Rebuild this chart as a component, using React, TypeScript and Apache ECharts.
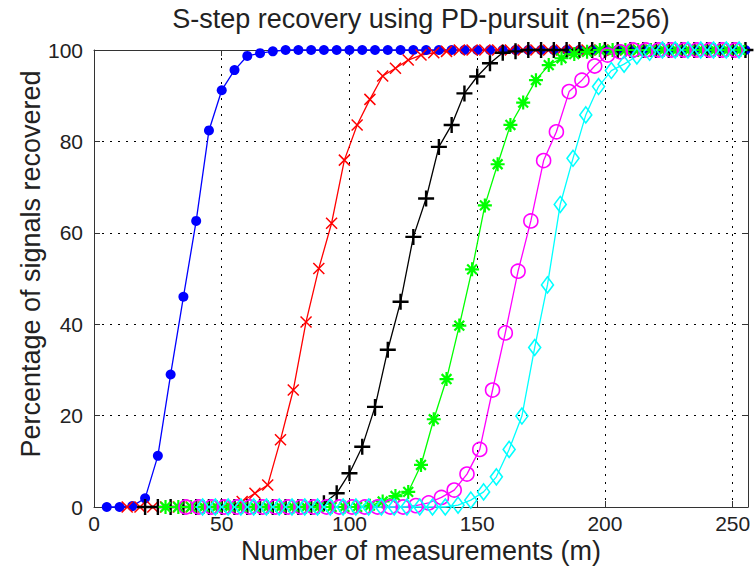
import React, { useEffect, useRef } from "react";
import * as echarts from "echarts";

// ---- data ----
const blueX = [5, 10, 15, 20, 25, 30, 35, 40, 45, 50, 55, 60, 65, 70, 75, 80, 85, 90, 95, 100, 105, 110, 115, 120, 125, 130, 135, 140, 145, 150, 155, 160, 165, 170, 175, 180, 185, 190, 195, 200, 205, 210, 215, 220, 225, 230, 235, 240, 245, 250, 255];
const blueY = [0, 0, 0.2, 1.9, 11.2, 29.0, 46.0, 62.6, 82.4, 91.2, 95.6, 98.7, 99.3, 99.7, 100, 100, 100, 100, 100, 100, 100, 100, 100, 100, 100, 100, 100, 100, 100, 100, 100, 100, 100, 100, 100, 100, 100, 100, 100, 100, 100, 100, 100, 100, 100, 100, 100, 100, 100, 100, 100];

const redX = [13, 18, 23, 28, 33, 38, 43, 48, 53, 58, 63, 68, 73, 78, 83, 88, 93, 98, 103, 108, 113, 118, 123, 128, 133, 138, 143, 148, 153, 158, 163, 168, 173, 178, 183, 188, 193, 198, 203, 208, 213, 218, 223, 228, 233, 238, 243, 248, 253];
const redY = [0, 0, 0, 0, 0, 0, 0, 0, 0.3, 1.2, 3.0, 4.8, 14.7, 25.6, 40.5, 52.2, 62.1, 75.9, 83.6, 89.2, 94.3, 96.0, 97.8, 98.9, 99.4, 99.7, 100, 100, 100, 100, 100, 100, 100, 100, 100, 100, 100, 100, 100, 100, 100, 100, 100, 100, 100, 100, 100, 100, 100];

const blackX = [20, 25, 30, 35, 40, 45, 50, 55, 60, 65, 70, 75, 80, 85, 90, 95, 100, 105, 110, 115, 120, 125, 130, 135, 140, 145, 150, 155, 160, 165, 170, 175, 180, 185, 190, 195, 200, 205, 210, 215, 220, 225, 230, 235, 240, 245, 250, 255];
const blackY = [0, 0, 0, 0, 0, 0, 0, 0, 0, 0, 0, 0, 0, 0, 0.8, 3.0, 7.4, 13.2, 21.9, 34.4, 44.9, 59.1, 67.5, 78.8, 83.6, 90.5, 94.2, 97.1, 99.4, 99.7, 100, 100, 100, 100, 100, 100, 100, 100, 100, 100, 100, 100, 100, 100, 100, 100, 100, 100];

const greenX = [28, 33, 38, 43, 48, 53, 58, 63, 68, 73, 78, 83, 88, 93, 98, 103, 108, 113, 118, 123, 128, 133, 138, 143, 148, 153, 158, 163, 168, 173, 178, 183, 188, 193, 198, 203, 208, 213, 218, 223, 228, 233, 238, 243, 248, 253];
const greenY = [0, 0, 0, 0, 0, 0, 0, 0, 0, 0, 0, 0, 0, 0, 0, 0, 0.3, 1.2, 2.4, 3.3, 9.2, 19.2, 28.0, 39.7, 52.0, 66.0, 75.0, 83.6, 88.5, 93.4, 96.7, 98.2, 99.1, 99.6, 100, 100, 100, 100, 100, 100, 100, 100, 100, 100, 100, 100];

const magentaX = [36, 41, 46, 51, 56, 61, 66, 71, 76, 81, 86, 91, 96, 101, 106, 111, 116, 121, 126, 131, 136, 141, 146, 151, 156, 161, 166, 171, 176, 181, 186, 191, 196, 201, 206, 211, 216, 221, 226, 231, 236, 241, 246, 251];
const magentaY = [0, 0, 0, 0, 0, 0, 0, 0, 0, 0, 0, 0, 0, 0, 0, 0, 0, 0, 0.3, 0.9, 2.1, 3.7, 7.2, 12.6, 25.6, 38.1, 51.6, 62.6, 75.8, 82.1, 90.9, 93.4, 96.5, 98.9, 99.6, 100, 100, 100, 100, 100, 100, 100, 100, 100];

const cyanX = [42.5, 47.5, 52.5, 57.5, 62.5, 67.5, 72.5, 77.5, 82.5, 87.5, 92.5, 97.5, 102.5, 107.5, 112.5, 117.5, 122.5, 127.5, 132.5, 137.5, 142.5, 147.5, 152.5, 157.5, 162.5, 167.5, 172.5, 177.5, 182.5, 187.5, 192.5, 197.5, 202.5, 207.5, 212.5, 217.5, 222.5, 227.5, 232.5, 237.5, 242.5, 247.5, 252.5];
const cyanY = [0, 0, 0, 0, 0, 0, 0, 0, 0, 0, 0, 0, 0, 0, 0, 0, 0, 0, 0, 0, 0.4, 1.5, 3.3, 6.6, 12.6, 19.9, 34.9, 48.6, 66.2, 76.3, 85.8, 92.0, 95.5, 96.9, 98.7, 99.5, 100, 100, 100, 100, 100, 100, 100];

const xTicks = [0, 50, 100, 150, 200, 250];
const yTicks = [0, 20, 40, 60, 80, 100];

const titleText = "S-step recovery using PD-pursuit (n=256)";
const xLabelText = "Number of measurements (m)";
const yLabelText = "Percentage of signals recovered";

const FONT = "'Liberation Sans', Arial, Helvetica, sans-serif";

const pairs = (xs: number[], ys: number[]) => xs.map((x, i) => [x, ys[i]]);

export default function App() {
  const ref = useRef<HTMLDivElement>(null);

  useEffect(() => {
    if (!ref.current) return;
    const chart = echarts.init(ref.current, undefined, { renderer: "svg" });

    const gridLine = { show: true, lineStyle: { color: "#000", width: 1, type: [2, 6] as any } };
    const axisLine = { show: true, onZero: false, lineStyle: { color: "#333", width: 1 } };
    const tick = { show: true, inside: true, length: 6, lineStyle: { color: "#333" } };

    const mk = (
      name: string,
      xs: number[],
      ys: number[],
      color: string,
      symbol: string,
      symbolSize: any,
      fill: string,
      bw: number
    ) => ({
      name,
      type: "line",
      data: pairs(xs, ys),
      symbol,
      symbolSize,
      showAllSymbol: true,
      lineStyle: { color, width: 1.3 },
      itemStyle: { color: fill, borderColor: color, borderWidth: bw },
      emphasis: { disabled: true },
      clip: false,
    });

    const option: any = {
      animation: false,
      backgroundColor: "#fff",
      grid: { left: 94, right: 6, top: 50, bottom: 63, containLabel: false },
      xAxis: [
        {
          type: "value",
          min: xTicks[0],
          max: 256,
          interval: 50,
          position: "bottom",
          axisLine,
          axisTick: tick,
          axisLabel: {
            show: true,
            fontSize: 21,
            color: "#222",
            fontFamily: FONT,
            margin: 6,
            showMaxLabel: false,
            formatter: (v: number) => (xTicks.indexOf(v) >= 0 ? String(v) : ""),
          },
          splitLine: gridLine,
        },
        {
          type: "value",
          min: xTicks[0],
          max: 256,
          interval: 50,
          position: "top",
          axisLine,
          axisTick: tick,
          axisLabel: { show: false },
          splitLine: { show: false },
        },
      ],
      yAxis: [
        {
          type: "value",
          min: yTicks[0],
          max: yTicks[yTicks.length - 1],
          interval: 20,
          position: "left",
          axisLine,
          axisTick: tick,
          axisLabel: { show: true, fontSize: 21, color: "#222", fontFamily: FONT, margin: 11 },
          splitLine: gridLine,
        },
        {
          type: "value",
          min: yTicks[0],
          max: yTicks[yTicks.length - 1],
          interval: 20,
          position: "right",
          axisLine,
          axisTick: tick,
          axisLabel: { show: false },
          splitLine: { show: false },
        },
      ],
      graphic: [
        {
          type: "text",
          x: 421,
          y: 19,
          style: {
            text: titleText,
            fontSize: 27,
            fontFamily: FONT,
            fill: "#222",
            textAlign: "center",
            textVerticalAlign: "middle",
          },
        },
        {
          type: "text",
          x: 421,
          y: 551,
          style: {
            text: xLabelText,
            fontSize: 27,
            fontFamily: FONT,
            fill: "#222",
            textAlign: "center",
            textVerticalAlign: "middle",
          },
        },
        {
          type: "text",
          x: 31,
          y: 264,
          rotation: Math.PI / 2,
          style: {
            text: yLabelText,
            fontSize: 27,
            fontFamily: FONT,
            fill: "#222",
            textAlign: "center",
            textVerticalAlign: "middle",
          },
        },
      ],
      series: [
        mk("S1", blueX, blueY, "#0000ff", "circle", 10, "#0000ff", 0),
        mk("S2", redX, redY, "#ff0000", "path://M0,0L10,10M10,0L0,10", 11, "#ff0000", 1.5),
        mk("S3", blackX, blackY, "#000000", "path://M5,0L5,10M0,5L10,5", 16, "#000000", 2.4),
        mk(
          "S4",
          greenX,
          greenY,
          "#00ff00",
          "path://M5,0L5,10M0,5L10,5M1.5,1.5L8.5,8.5M8.5,1.5L1.5,8.5",
          14,
          "#00ff00",
          2.2
        ),
        mk("S5", magentaX, magentaY, "#ff00ff", "circle", 14, "rgba(0,0,0,0)", 1.6),
        mk("S6", cyanX, cyanY, "#00ffff", "diamond", [12, 16], "rgba(0,0,0,0)", 1.6),
      ],
    };

    chart.setOption(option);
    return () => chart.dispose();
  }, []);

  return (
    <div
      ref={ref}
      style={{ position: "fixed", left: 0, top: 0, width: 754, height: 570, background: "#fff" }}
    />
  );
}
